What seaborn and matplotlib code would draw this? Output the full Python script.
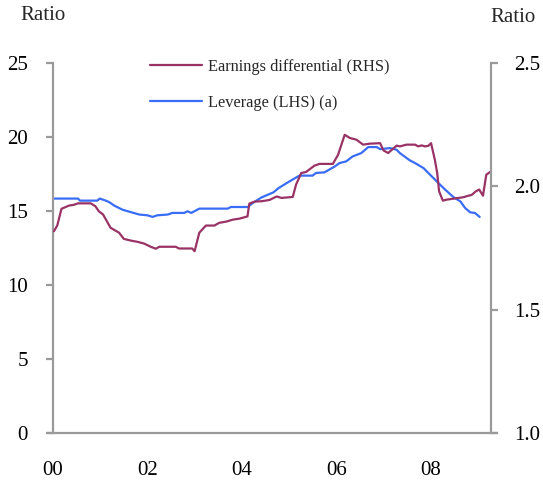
import matplotlib
matplotlib.use("Agg")
import matplotlib.pyplot as plt
import seaborn as sns
import pandas as pd

# ---- data ----
earn_year = [2000.02, 2000.09, 2000.18, 2000.34, 2000.44, 2000.53, 2000.80, 2000.90, 2000.97,
             2001.06, 2001.22, 2001.40, 2001.50, 2001.65, 2001.79, 2001.93, 2002.07, 2002.18,
             2002.25, 2002.60, 2002.67, 2002.95, 2003.00, 2003.10, 2003.24, 2003.42, 2003.52,
             2003.67, 2003.81, 2003.95, 2004.12, 2004.16, 2004.27, 2004.44, 2004.59, 2004.74,
             2004.84, 2005.08, 2005.15, 2005.26, 2005.36, 2005.54, 2005.65, 2005.93, 2006.04,
             2006.18, 2006.29, 2006.43, 2006.57, 2006.71, 2006.93, 2007.00, 2007.10, 2007.28,
             2007.35, 2007.49, 2007.67, 2007.74, 2007.81, 2007.88, 2007.95, 2008.01, 2008.09,
             2008.14, 2008.18, 2008.26, 2008.34, 2008.45, 2008.59, 2008.70, 2008.80, 2008.87,
             2008.96, 2009.03, 2009.11, 2009.18, 2009.28]
earn_val = [1.818, 1.841, 1.909, 1.922, 1.925, 1.931, 1.931, 1.919, 1.899,
            1.886, 1.832, 1.812, 1.787, 1.780, 1.775, 1.768, 1.755, 1.747,
            1.755, 1.755, 1.748, 1.748, 1.737, 1.812, 1.841, 1.841, 1.852,
            1.857, 1.865, 1.869, 1.878, 1.930, 1.938, 1.940, 1.945, 1.959,
            1.953, 1.957, 2.007, 2.054, 2.058, 2.084, 2.091, 2.091, 2.128,
            2.209, 2.196, 2.189, 2.169, 2.173, 2.175, 2.146, 2.135, 2.165,
            2.162, 2.169, 2.169, 2.162, 2.166, 2.162, 2.164, 2.175, 2.108,
            2.054, 1.980, 1.942, 1.946, 1.949, 1.953, 1.956, 1.962, 1.965,
            1.980, 1.987, 1.962, 2.047, 2.061]

lev_year = [2000.02, 2000.53, 2000.57, 2000.94, 2000.99, 2001.12, 2001.19, 2001.30, 2001.47,
            2001.61, 2001.83, 2002.00, 2002.11, 2002.21, 2002.43, 2002.53, 2002.78, 2002.85,
            2002.93, 2003.10, 2003.70, 2003.77, 2004.13, 2004.23, 2004.42, 2004.67, 2004.78,
            2005.01, 2005.22, 2005.50, 2005.57, 2005.75, 2005.97, 2006.07, 2006.21, 2006.35,
            2006.53, 2006.68, 2006.86, 2006.93, 2007.14, 2007.28, 2007.35, 2007.56, 2007.67,
            2007.85, 2007.99, 2008.13, 2008.31, 2008.48, 2008.63, 2008.73, 2008.84, 2008.94,
            2009.04]
lev_val = [15.84, 15.84, 15.70, 15.70, 15.84, 15.70, 15.60, 15.36, 15.09,
           14.96, 14.76, 14.71, 14.60, 14.71, 14.76, 14.87, 14.87, 14.98,
           14.87, 15.16, 15.16, 15.27, 15.27, 15.54, 15.92, 16.26, 16.55,
           17.00, 17.39, 17.39, 17.57, 17.61, 18.01, 18.24, 18.35, 18.69,
           18.91, 19.32, 19.32, 19.18, 19.25, 19.14, 18.91, 18.42, 18.24,
           17.90, 17.45, 17.00, 16.44, 15.95, 15.65, 15.21, 14.91, 14.87,
           14.60]

x_ticks = [2000, 2002, 2004, 2006, 2008]
x_tick_labels = ["00", "02", "04", "06", "08"]
left_ticks = [0, 5, 10, 15, 20, 25]
right_ticks = [1.0, 1.5, 2.0, 2.5]
right_tick_labels = ["1.0", "1.5", "2.0", "2.5"]
earn_label = "Earnings differential (RHS)"
lev_label = "Leverage (LHS) (a)"

earn_df = pd.DataFrame({"year": earn_year, "value": earn_val})
lev_df = pd.DataFrame({"year": lev_year, "value": lev_val})

# ---- style ----
sns.set_style("white")
plt.rcParams["font.family"] = ["Liberation Serif", "DejaVu Serif"]

GRAY = "#9a9a9a"
MAROON = "#993366"
BLUE = "#3a6df5"
FS = 15

fig = plt.figure(figsize=(5.43, 4.83), dpi=100)
W, H = 543, 483
left_px, right_px, top_px, bot_px = 53, 491, 63, 433
ax = fig.add_axes([left_px / W, (H - bot_px) / H, (right_px - left_px) / W, (bot_px - top_px) / H])
ax2 = ax.twinx()

sns.lineplot(data=lev_df, x="year", y="value", ax=ax, color=BLUE, linewidth=1.6, legend=False)
sns.lineplot(data=earn_df, x="year", y="value", ax=ax2, color=MAROON, linewidth=1.6, legend=False)

ax.set_xlim(2000, 2009.28)
ax.set_ylim(0, 25)
ax2.set_ylim(1.0, 2.5)

ax.set_xticks(x_ticks)
ax.set_xticklabels(x_tick_labels)
ax.set_yticks(left_ticks)
ax2.set_yticks(right_ticks)
ax2.set_yticklabels(right_tick_labels)

for a in (ax, ax2):
    a.set_xlabel("")
    a.set_ylabel("")
    a.grid(False)
    a.spines["top"].set_visible(False)
    for s in a.spines.values():
        s.set_color(GRAY)
        s.set_linewidth(1.6)

ax.spines["right"].set_visible(False)
ax2.spines["left"].set_visible(False)
ax2.spines["bottom"].set_visible(False)
ax.spines["bottom"].set_bounds(1999.89, 2009.40)

ax.tick_params(axis="x", direction="in", length=5, width=1.6, color=GRAY,
               pad=20, labelsize=FS, labelcolor="black")
ax.tick_params(axis="y", direction="out", length=5, width=1.6, color=GRAY,
               pad=13, labelsize=FS, labelcolor="black")
ax2.tick_params(axis="y", direction="out", length=5, width=1.6, color=GRAY,
                pad=11.5, labelsize=FS, labelcolor="black")

fig.text(43 / W, 1 - 15 / H, "Ratio", ha="center", va="center", fontsize=FS)
fig.text(513 / W, 1 - 18 / H, "Ratio", ha="center", va="center", fontsize=FS)

handles = [plt.Line2D([], [], color=MAROON, lw=1.6), plt.Line2D([], [], color=BLUE, lw=1.6)]
leg = fig.legend(handles, [earn_label, lev_label], loc="upper left",
                 bbox_to_anchor=(150 / W, 1 - 59 / H), bbox_transform=fig.transFigure,
                 frameon=False, fontsize=11.8, handlelength=3.2, handletextpad=0.35,
                 labelspacing=1.2, borderpad=0, borderaxespad=0)

fig.savefig("out.png", dpi=100)
